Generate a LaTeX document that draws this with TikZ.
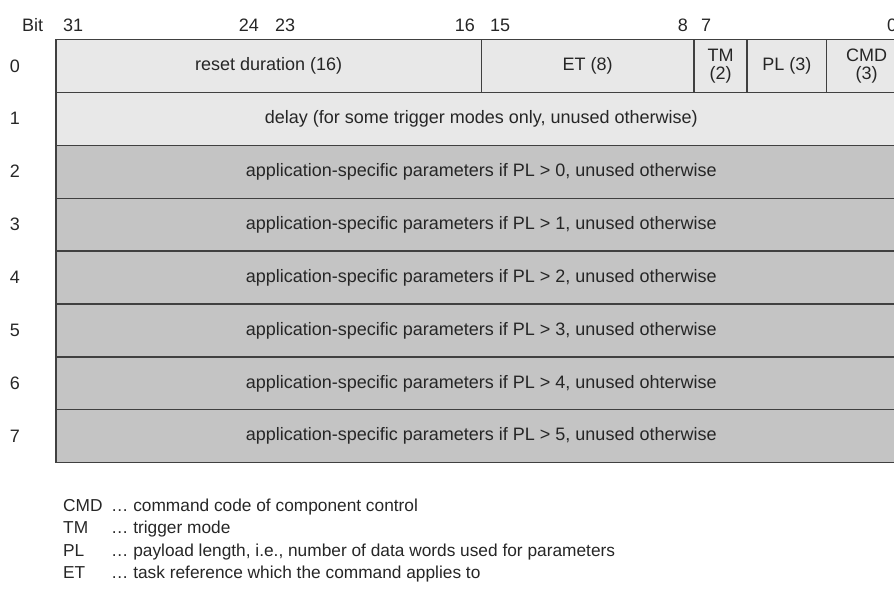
\documentclass[tikz,border=0pt]{standalone}
\usepackage{fontspec}
\setmainfont{Liberation Sans}
\begin{document}
\begin{tikzpicture}[x=1pt,y=-1pt,
  txt/.style={text=black!85, font=\fontsize{18}{18}\selectfont, inner sep=0pt},
  cell/.style={txt, draw=black!75, line width=1.3pt, anchor=north west,
    minimum height=52.9pt, inner sep=0pt, outer sep=0pt, align=center},
  lightcell/.style={cell, fill=black!9},
  darkcell/.style={cell, fill=black!23},
  bitnum/.style={txt},
  rownum/.style={txt, anchor=center},
  legkey/.style={txt, font=\fontsize{17.3}{18}\selectfont, anchor=base west},
  legtext/.style={txt, font=\fontsize{17.3}{18}\selectfont, anchor=base west}]
\useasboundingbox (0,0) rectangle (894,593);
\clip (0,0) rectangle (894,593);

% bit positions along the top
\node[bitnum, anchor=base west] (hbit) at (22,32) {Bit};
\node[bitnum, anchor=base west] (h31) at (63,32) {31};
\node[bitnum, anchor=base east] (h24) at (259,32) {24};
\node[bitnum, anchor=base west] (h23) at (275,32) {23};
\node[bitnum, anchor=base east] (h16) at (475,32) {16};
\node[bitnum, anchor=base west] (h15) at (490,32) {15};
\node[bitnum, anchor=base east] (h8) at (688,32) {8};
\node[bitnum, anchor=base west] (h7) at (701,32) {7};
\node[bitnum, anchor=base west] (h0) at (887,32) {0};

% word 0: bit fields
\node[lightcell, minimum width=425.3pt] (reset) at (56,39.5) {reset duration (16)};
\node[lightcell, minimum width=212.6pt] (et) at (481.3,39.5) {ET (8)};
\node[lightcell, minimum width=53.2pt] (tm) at (693.9,39.5) {TM\\(2)};
\node[lightcell, minimum width=79.7pt] (pl) at (747.1,39.5) {PL (3)};
\node[lightcell, minimum width=79.7pt] (cmd) at (826.8,39.5) {CMD\\(3)};

% words 1 to 7
\node[lightcell, minimum width=850.5pt] (w1) at (56,92.4) {delay (for some trigger modes only, unused otherwise)};
\node[darkcell, minimum width=850.5pt] (w2) at (56,145.3) {application-specific parameters if PL > 0, unused otherwise};
\node[darkcell, minimum width=850.5pt] (w3) at (56,198.2) {application-specific parameters if PL > 1, unused otherwise};
\node[darkcell, minimum width=850.5pt] (w4) at (56,251.1) {application-specific parameters if PL > 2, unused otherwise};
\node[darkcell, minimum width=850.5pt] (w5) at (56,304.0) {application-specific parameters if PL > 3, unused otherwise};
\node[darkcell, minimum width=850.5pt] (w6) at (56,356.9) {application-specific parameters if PL > 4, unused ohterwise};
\node[darkcell, minimum width=850.5pt] (w7) at (56,409.8) {application-specific parameters if PL > 5, unused otherwise};

% word indices
\node[rownum] (r0) at (15,65.9) {0};
\node[rownum] (r1) at (15,118.8) {1};
\node[rownum] (r2) at (15,171.7) {2};
\node[rownum] (r3) at (15,224.6) {3};
\node[rownum] (r4) at (15,277.5) {4};
\node[rownum] (r5) at (15,330.4) {5};
\node[rownum] (r6) at (15,383.3) {6};
\node[rownum] (r7) at (15,436.2) {7};

% legend
\node[legkey] (kcmd) at (63,511) {CMD};
\node[legkey] (ktm) at (63,533.5) {TM};
\node[legkey] (kpl) at (63,556) {PL};
\node[legkey] (ket) at (63,578.5) {ET};
\node[legtext] (dcmd) at (111,511) {\dots{} command code of component control};
\node[legtext] (dtm) at (111,533.5) {\dots{} trigger mode};
\node[legtext] (dpl) at (111,556) {\dots{} payload length, i.e., number of data words used for parameters};
\node[legtext] (det) at (111,578.5) {\dots{} task reference which the command applies to};
\end{tikzpicture}
\end{document}
